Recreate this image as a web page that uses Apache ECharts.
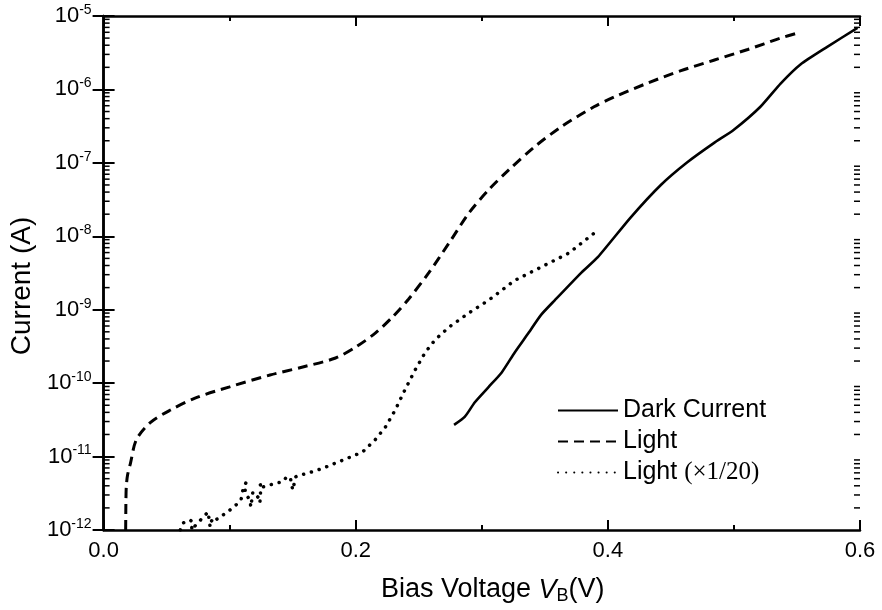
<!DOCTYPE html>
<html>
<head>
<meta charset="utf-8">
<script src="https://cdn.jsdelivr.net/npm/echarts@6/dist/echarts.min.js"></script>
<style>html,body{margin:0;padding:0;background:#fff}#c{width:882px;height:610px}</style>
</head>
<body>
<div id="c"></div>
<script>
// ---- data (bias voltage V, current A) ----
const darkV = [0.278,0.2866,0.2945,0.3055,0.3158,0.326,0.337,0.347,0.358,0.379,0.392,0.418,0.442,0.463,0.484,0.4997,0.521,0.537,0.553,0.574,0.598];
const darkI = [2.7e-11,3.5e-11,5.5e-11,8.9e-11,1.4e-10,2.6e-10,4.8e-10,8.5e-10,1.35e-9,3.2e-9,5.2e-9,1.8e-8,5.0e-8,1.02e-7,1.86e-7,2.8e-7,5.8e-7,1.2e-6,2.2e-6,3.8e-6,6.9e-6];

const lightV = [0.0175,0.0177,0.018,0.019,0.0213,0.026,0.037,0.053,0.073,0.100,0.132,0.158,0.184,0.200,0.2155,0.229,0.242,0.258,0.274,0.290,0.3055,0.321,0.342,0.363,0.389,0.405,0.432,0.458,0.484,0.511,0.537,0.551];
const lightI = [1.0e-12,2.5e-12,3.9e-12,5.6e-12,8.1e-12,1.7e-11,2.9e-11,4.3e-11,6.3e-11,8.9e-11,1.29e-10,1.66e-10,2.2e-10,3.1e-10,4.8e-10,7.9e-10,1.4e-9,3.2e-9,8.1e-9,2.1e-8,4.3e-8,7.9e-8,1.66e-7,3.1e-7,5.8e-7,7.9e-7,1.23e-6,1.8e-6,2.5e-6,3.5e-6,5.0e-6,5.9e-6];

const light20V = [0.0608,0.0632,0.0687,0.071,0.0695,0.0829,0.0845,0.0853,0.0868,0.0884,0.0924,0.0947,0.0987,0.1026,0.105,0.109,0.1105,0.1129,0.1121,0.1145,0.116,0.1168,0.1184,0.1224,0.124,0.1247,0.124,0.1263,0.1318,0.138,0.142,0.1445,0.148,0.15,0.1524,0.1555,0.160,0.1737,0.1895,0.2053,0.2155,0.2234,0.2313,0.239,0.247,0.255,0.263,0.274,0.290,0.3055,0.326,0.347,0.369,0.389];
const light20I = [1.0e-12,1.25e-12,1.37e-12,1.25e-12,1.0e-12,1.76e-12,1.1e-12,1.29e-12,1.46e-12,1.37e-12,1.46e-12,1.6e-12,1.76e-12,2.06e-12,2.19e-12,2.57e-12,3.5e-12,4.4e-12,3.2e-12,2.8e-12,2.57e-12,2.06e-12,3.3e-12,2.8e-12,2.34e-12,3.85e-12,4.4e-12,3.85e-12,4.1e-12,4.4e-12,4.5e-12,5.1e-12,5.3e-12,3.5e-12,5.3e-12,5.6e-12,5.8e-12,6.9e-12,8.9e-12,1.15e-11,1.7e-11,2.5e-11,4.3e-11,8.1e-11,1.5e-10,2.6e-10,3.9e-10,5.8e-10,9.1e-10,1.35e-9,2.5e-9,3.8e-9,5.9e-9,1.1e-8];

const seriesNames = ['Dark Current','Light','Light (\u00d71/20)'];
const yDecades = [1e-12,1e-11,1e-10,1e-9,1e-8,1e-7,1e-6,1e-5];
const xTicks = [0.0,0.2,0.4,0.6];

// minor log ticks 2..9 in each decade
const yMinor = [];
for (let e = -12; e < -5; e++) for (let m = 2; m <= 9; m++) yMinor.push(m * Math.pow(10, e));

const zip = (a, b) => a.map((v, i) => [v, b[i]]);
const FONT = 'Liberation Sans';

const yBase = {
  type: 'log', logBase: 10, min: 1e-12, max: 1e-5, gridIndex: 0,
  splitLine: {show: false}, minorTick: {show: false}, minorSplitLine: {show: false}
};

const option = {
  animation: false,
  backgroundColor: '#fff',
  grid: {left: 100, right: 22, top: 16, bottom: 80, containLabel: false},
  legend: {
    orient: 'vertical', left: 557, top: 398, padding: 0,
    itemWidth: 60, itemHeight: 14, itemGap: 6,
    data: seriesNames,
    itemStyle: {opacity: 0},
    textStyle: {
      fontFamily: FONT, fontSize: 25, color: '#000',
      rich: {
        a: {fontFamily: FONT, fontSize: 25, color: '#000'},
        t: {fontFamily: 'Liberation Serif', fontSize: 25, color: '#000'}
      }
    },
    formatter: function (name) {
      if (name === seriesNames[2]) return '{a|Light }{t|(\u00d71/20)}';
      return '{a|' + name + '}';
    }
  },
  xAxis: [
    {
      type: 'value', position: 'bottom', min: 0, max: 0.6, interval: 0.2,
      name: '{a|Bias Voltage }{i|V}{s|B}{a|(V)}',
      nameLocation: 'middle', nameGap: 45,
      nameTextStyle: {
        padding: [0, 0, 0, 22],
        rich: {
          a: {fontFamily: FONT, fontSize: 27, color: '#000'},
          i: {fontFamily: FONT, fontSize: 27, fontStyle: 'italic', color: '#000'},
          s: {fontFamily: FONT, fontSize: 18, color: '#000', verticalAlign: 'bottom', padding: [12, 0, 0, 0]}
        }
      },
      axisLine: {show: true, lineStyle: {color: '#000', width: 2.5}},
      axisTick: {show: true, inside: true, length: 10, lineStyle: {color: '#000', width: 2}},
      minorTick: {show: true, splitNumber: 2, length: 5, lineStyle: {color: '#000', width: 2}},
      axisLabel: {
        show: true, margin: 10, color: '#000', fontFamily: FONT, fontSize: 22,
        formatter: v => v.toFixed(1)
      },
      splitLine: {show: false}
    },
    {
      type: 'value', position: 'top', min: 0, max: 0.6, interval: 0.2,
      axisLine: {show: true, lineStyle: {color: '#000', width: 2.5}},
      axisTick: {show: true, inside: true, length: 10, lineStyle: {color: '#000', width: 2}},
      minorTick: {show: true, splitNumber: 2, length: 5, lineStyle: {color: '#000', width: 2}},
      axisLabel: {show: false},
      splitLine: {show: false}
    }
  ],
  yAxis: [
    Object.assign({}, yBase, {
      position: 'left',
      name: 'Current (A)', nameLocation: 'middle', nameGap: 44, nameRotate: 90,
      nameTextStyle: {fontFamily: FONT, fontSize: 28, color: '#000', padding: [0, 26, 0, 0]},
      axisLine: {show: true, lineStyle: {color: '#000', width: 2.5}},
      axisTick: {show: true, inside: true, length: 11, customValues: yDecades, lineStyle: {color: '#000', width: 2}},
      axisLabel: {
        show: true, margin: 12, customValues: yDecades,
        formatter: v => '{b|10}{s|' + Math.round(Math.log10(v)) + '}',
        rich: {
          b: {fontFamily: FONT, fontSize: 22, color: '#000'},
          s: {fontFamily: FONT, fontSize: 14, color: '#000', verticalAlign: 'top', padding: [0, 0, 12, 0]}
        }
      }
    }),
    Object.assign({}, yBase, {
      position: 'right',
      axisLine: {show: true, lineStyle: {color: '#000', width: 2.5}},
      axisTick: {show: true, inside: true, length: 11, customValues: yDecades, lineStyle: {color: '#000', width: 2}},
      axisLabel: {show: false}
    })
  ],
  series: [
    {
      name: seriesNames[0], type: 'line', xAxisIndex: 0, yAxisIndex: 0,
      data: zip(darkV, darkI), showSymbol: false, symbol: 'none', smooth: 0.2,
      lineStyle: {color: '#000', width: 2.6, type: 'solid'}, itemStyle: {color: '#000'}
    },
    {
      name: seriesNames[1], type: 'line', xAxisIndex: 0, yAxisIndex: 0,
      data: zip(lightV, lightI), showSymbol: false, symbol: 'none', smooth: 0.3,
      lineStyle: {color: '#000', width: 3, type: [10, 6]}, itemStyle: {color: '#000'}
    },
    {
      name: seriesNames[2], type: 'line', xAxisIndex: 0, yAxisIndex: 0,
      data: zip(light20V, light20I), showSymbol: false, symbol: 'none',
      lineStyle: {color: '#000', width: 3.5, type: [0.1, 8], cap: 'round'}, itemStyle: {color: '#000'}
    },
    {
      // minor log ticks on left and right frame
      name: 'minorTicks', type: 'custom', xAxisIndex: 0, yAxisIndex: 0,
      data: yMinor.map(v => [0, v]), silent: true, clip: false,
      renderItem: function (params, api) {
        const v = api.value(1);
        const pl = api.coord([0, v]);
        const pr = api.coord([0.6, v]);
        const st = {stroke: '#000', lineWidth: 1.5};
        return {
          type: 'group',
          children: [
            {type: 'line', shape: {x1: pl[0], y1: pl[1], x2: pl[0] + 6, y2: pl[1]}, style: st},
            {type: 'line', shape: {x1: pr[0] - 6, y1: pr[1], x2: pr[0], y2: pr[1]}, style: st}
          ]
        };
      }
    }
  ]
};

const chart = echarts.init(document.getElementById('c'), null, {renderer: 'canvas'});
chart.setOption(option);
</script>
</body>
</html>
